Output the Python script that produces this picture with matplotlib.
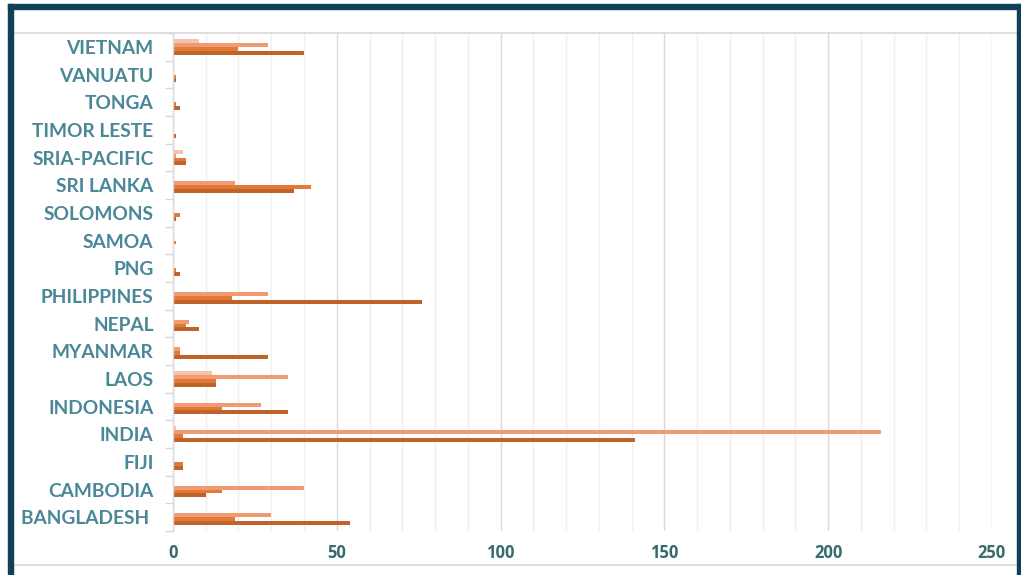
import matplotlib.pyplot as plt
import numpy as np
from matplotlib.patches import Rectangle
from matplotlib.lines import Line2D

# countries from bottom to top
countries = ["BANGLADESH ", "CAMBODIA", "FIJI", "INDIA", "INDONESIA", "LAOS",
             "MYANMAR", "NEPAL", "PHILIPPINES", "PNG", "SAMOA", "SOLOMONS",
             "SRI LANKA", "SRIA-PACIFIC", "TIMOR LESTE", "TONGA", "VANUATU",
             "VIETNAM"]

# four series per country, drawn top to bottom inside each group
pale = [0, 0, 0, 1, 0, 12, 0, 0, 0, 0, 0, 0, 0, 3, 0, 0, 0, 8]
salmon = [30, 40, 0, 216, 27, 35, 2, 5, 29, 0, 0, 0, 19, 1, 0, 0, 0, 29]
orange = [19, 15, 3, 3, 15, 13, 2, 4, 18, 1, 1, 2, 42, 4, 0, 1, 1, 20]
dark = [54, 10, 3, 141, 35, 13, 29, 8, 76, 2, 0, 1, 37, 4, 1, 2, 1, 40]

x_ticks = [0, 50, 100, 150, 200, 250]

label_color = "#4A8797"
tick_color = "#376C6C"
frame_color = "#0E4058"

fig = plt.figure(figsize=(10.21, 5.75), dpi=100)
ax = fig.add_axes([0.1694, 0.0765, 0.8022, 0.8661])

y = np.arange(len(countries))
h = 0.141
series = [(pale, "#F5C3AC"), (salmon, "#F09B74"), (orange, "#E07A34"), (dark, "#C0632A")]
for i, (vals, col) in enumerate(series):
    offset = (1.5 - i) * h
    ax.barh(y + offset, vals, height=h, color=col, edgecolor="none")

ax.set_xlim(0, 250)
ax.set_ylim(-0.5, len(countries) - 0.5)

ax.set_xticks(x_ticks)
ax.set_xticks(np.arange(0, 251, 10), minor=True)
ax.grid(axis="x", which="minor", color="#EFEFEF", linewidth=1)
ax.grid(axis="x", which="major", color="#D9D9D9", linewidth=1)
ax.set_axisbelow(True)

ax.set_yticks(y)
ax.set_yticklabels(countries)
ax.set_yticks(np.arange(-0.5, len(countries), 1), minor=True)
ax.tick_params(axis="y", which="major", length=0, pad=14)
ax.tick_params(axis="y", which="minor", length=6, color="#D9D9D9", width=1)
ax.tick_params(axis="x", which="both", length=0, pad=9)

for lbl in ax.get_yticklabels():
    lbl.set_fontfamily("Lato")
    lbl.set_fontweight("bold")
    lbl.set_fontsize(13.8)
    lbl.set_color(label_color)
for lbl in ax.get_xticklabels():
    lbl.set_fontfamily("Open Sans")
    lbl.set_fontweight("bold")
    lbl.set_fontsize(12)
    lbl.set_color(tick_color)

for side in ["top", "right", "bottom"]:
    ax.spines[side].set_visible(False)
ax.spines["left"].set_color("#D9D9D9")
ax.spines["left"].set_linewidth(1)

# outer chart frame
W, H = 1021, 575
fig.add_artist(Rectangle((8 / W, 0), 5 / W, 1 - 4 / H, transform=fig.transFigure,
                         color=frame_color, zorder=5))
fig.add_artist(Rectangle((8 / W, 1 - 9 / H), 1013 / W, 5 / H, transform=fig.transFigure,
                         color=frame_color, zorder=5))
fig.add_artist(Rectangle((1017 / W, 0), 4 / W, 1 - 4 / H, transform=fig.transFigure,
                         color=frame_color, zorder=5))
fig.add_artist(Line2D([13 / W, 1017 / W], [1 - 33 / H, 1 - 33 / H], transform=fig.transFigure,
                      color="#D9D9D9", linewidth=1.2))
fig.add_artist(Line2D([13 / W, 1017 / W], [1 - 565 / H, 1 - 565 / H], transform=fig.transFigure,
                      color="#D9D9D9", linewidth=1.2))

fig.savefig("out.png", dpi=100)
